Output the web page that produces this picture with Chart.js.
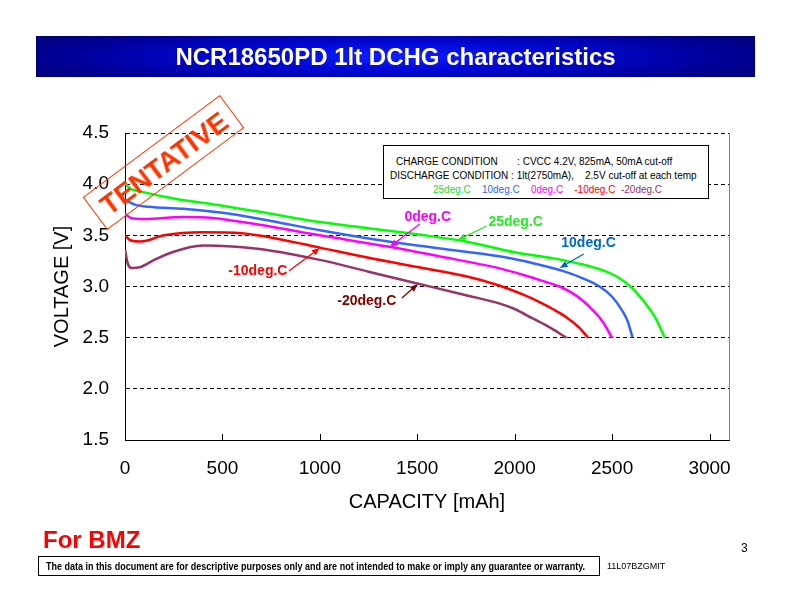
<!DOCTYPE html>
<html>
<head>
<meta charset="utf-8">
<script src="https://cdn.jsdelivr.net/npm/chart.js@4.4.1/dist/chart.umd.min.js"></script>
<style>
html,body{margin:0;padding:0;background:#fff;}
#wrap{position:relative;width:792px;height:612px;overflow:hidden;font-family:"Liberation Sans",Arial,sans-serif;background:#fff;}
#c{position:absolute;left:0;top:0;}
#titlebar{position:absolute;left:36px;top:36px;width:719px;height:41px;
  background:radial-gradient(ellipse 60% 90% at 50% 50%,#1020ff 0%,#0008d8 35%,#00009a 75%,#000078 100%);
  color:#fff;font:bold 24px "Liberation Sans",Arial,sans-serif;text-align:center;line-height:41px;}
#cond{position:absolute;left:383px;top:145px;width:324px;height:52px;border:1px solid #000;background:#fff;
  font:10px "Liberation Sans",Arial,sans-serif;color:#000;}
#cond div{position:absolute;white-space:pre;line-height:12px;}
#stamp{position:absolute;left:78px;top:142px;width:171px;height:41px;border:1px solid #ff3300;
  transform:rotate(-36.7deg);color:#ff3300;font:bold 28px "Liberation Sans",Arial,sans-serif;
  text-align:center;line-height:41px;box-sizing:border-box;}
#forbmz{position:absolute;left:43px;top:526px;color:#ff0000;font:bold 24px "Liberation Sans",Arial,sans-serif;line-height:28px;}
#disc{position:absolute;left:38px;top:556px;width:562px;height:20px;border:1px solid #000;box-sizing:border-box;}
#disctext{position:absolute;left:7px;top:3px;white-space:nowrap;font:bold 11px "Liberation Sans Narrow","Liberation Sans",Arial,sans-serif;transform-origin:0 0;line-height:13px;}
#code{position:absolute;left:607px;top:560px;font:9px "Liberation Sans",Arial,sans-serif;line-height:12px;}
#page{position:absolute;left:741px;top:541px;font:12px "Liberation Sans",Arial,sans-serif;line-height:14px;}
</style>
</head>
<body>
<div id="wrap">
  <canvas id="c" width="792" height="612"></canvas>
  <div id="titlebar">NCR18650PD 1lt DCHG characteristics</div>
  <div id="cond">
    <div style="left:12px;top:10px;">CHARGE CONDITION       : CVCC 4.2V, 825mA, 50mA cut-off</div>
    <div style="left:6px;top:24px;">DISCHARGE CONDITION : 1lt(2750mA),    2.5V cut-off at each temp</div>
    <div style="left:49px;top:38px;"><span style="color:#22dd22">25deg.C</span>    <span style="color:#3366ff">10deg.C</span>    <span style="color:#ff00ff">0deg.C</span>    <span style="color:#ff0000">-10deg.C</span>  <span style="color:#993366">-20deg.C</span></div>
  </div>
  <div id="stamp">TENTATIVE</div>
  <div id="forbmz">For BMZ</div>
  <div id="disc"><div id="disctext">The data in this document are for descriptive purposes only and are not intended to make or imply any guarantee or warranty.</div></div>
  <div id="code">11L07BZGMIT</div>
  <div id="page">3</div>
</div>
<script>
// ---- Data (capacity in mAh, voltage in V) ----
const cap25 = [0,25,100,250,500,750,1000,1250,1500,1750,2000,2200,2350,2450,2530,2600,2660,2720,2770];
const volt25 = [4.01,3.96,3.92,3.86,3.79,3.71,3.63,3.57,3.51,3.44,3.335,3.275,3.215,3.16,3.09,2.99,2.86,2.70,2.50];

const cap10 = [0,50,120,300,500,750,1000,1250,1500,1750,1950,2100,2250,2350,2436,2500,2550,2580,2605];
const volt10 = [3.85,3.80,3.78,3.76,3.72,3.64,3.55,3.47,3.40,3.34,3.285,3.225,3.15,3.08,3.00,2.90,2.77,2.66,2.50];

const cap0 = [0,30,100,300,450,700,1000,1350,1600,1923,2050,2150,2230,2300,2350,2400,2450,2500];
const volt0 = [3.71,3.67,3.66,3.68,3.67,3.60,3.50,3.39,3.30,3.177,3.11,3.05,3.00,2.93,2.86,2.77,2.66,2.50];

const capM10 = [0,30,80,200,400,600,800,1000,1250,1500,1750,1920,2050,2130,2200,2265,2330,2376];
const voltM10 = [3.50,3.45,3.44,3.50,3.53,3.52,3.46,3.38,3.28,3.19,3.10,3.01,2.915,2.845,2.775,2.70,2.60,2.50];

const capM20 = [0,15,35,80,150,250,400,550,750,1000,1250,1500,1750,1920,2000,2090,2180,2265];
const voltM20 = [3.36,3.22,3.18,3.19,3.26,3.34,3.40,3.39,3.35,3.26,3.145,3.03,2.915,2.835,2.78,2.69,2.60,2.50];

const seriesNames = ['25deg.C','10deg.C','0deg.C','-10deg.C','-20deg.C'];
const seriesColors = ['#00ff00','#3366ff','#ff00ff','#ff0000','#993366'];
const xTicks = [0,500,1000,1500,2000,2500,3000];
const yTicks = [1.5,2.0,2.5,3.0,3.5,4.0,4.5];

// curve call-outs: [text, textColor, labelCap, labelV, arrowFromCap, arrowFromV, tipCap, tipV]
const callouts = [
  ['0deg.C',  '#ff00ff', 1554, 3.679, 1513, 3.611, 1359, 3.386],
  ['25deg.C', '#22ee22', 2005, 3.630, 1856, 3.591, 1708, 3.454],
  ['10deg.C', '#0066cc', 2379, 3.425, 2354, 3.318, 2231, 3.181],
  ['-10deg.C','#ff0000',  682, 3.151,  841, 3.151, 1000, 3.376],
  ['-20deg.C','#800000', 1241, 2.858, 1421, 2.888, 1503, 3.024]
];

function pts(xs, ys){ return xs.map((x,i)=>({x:x, y:ys[i]})); }
const capArrays = [cap25,cap10,cap0,capM10,capM20];
const voltArrays = [volt25,volt10,volt0,voltM10,voltM20];

const datasets = seriesNames.map((n,i)=>({
  label:n, data:pts(capArrays[i], voltArrays[i]),
  borderColor:seriesColors[i], backgroundColor:seriesColors[i],
  borderWidth:2.5, pointRadius:0, fill:false,
  cubicInterpolationMode:'monotone'
})).reverse();

const extras = {
  id:'extras',
  afterDraw(chart){
    const ctx = chart.ctx, xs = chart.scales.x, ys = chart.scales.y, a = chart.chartArea;
    ctx.save();
    // right border
    ctx.strokeStyle = '#808080'; ctx.lineWidth = 1;
    ctx.beginPath(); ctx.moveTo(Math.round(a.right)+0.5, a.top); ctx.lineTo(Math.round(a.right)+0.5, a.bottom); ctx.stroke();
    // inner x ticks
    ctx.strokeStyle = '#000';
    xTicks.forEach(v=>{ if(v===0) return; const px = Math.round(xs.getPixelForValue(v))+0.5;
      ctx.beginPath(); ctx.moveTo(px, a.bottom); ctx.lineTo(px, a.bottom-6); ctx.stroke(); });
    // call-outs
    ctx.font = 'bold 14px "Liberation Sans", Arial, sans-serif';
    ctx.textAlign = 'center'; ctx.textBaseline = 'middle';
    callouts.forEach(c=>{
      const [t,col,lc,lv,fc,fv,tc,tv] = c;
      ctx.fillStyle = col; ctx.strokeStyle = col; ctx.lineWidth = 1.3;
      ctx.fillText(t, xs.getPixelForValue(lc), ys.getPixelForValue(lv));
      const x1 = xs.getPixelForValue(fc), y1 = ys.getPixelForValue(fv);
      const x2 = xs.getPixelForValue(tc), y2 = ys.getPixelForValue(tv);
      const ang = Math.atan2(y2-y1, x2-x1);
      const hl = 8, hw = 3.2;
      const bx = x2 - hl*Math.cos(ang), by = y2 - hl*Math.sin(ang);
      ctx.beginPath(); ctx.moveTo(x1,y1); ctx.lineTo(bx,by); ctx.stroke();
      ctx.beginPath();
      ctx.moveTo(x2,y2);
      ctx.lineTo(bx + hw*Math.sin(ang), by - hw*Math.cos(ang));
      ctx.lineTo(bx - hw*Math.sin(ang), by + hw*Math.cos(ang));
      ctx.closePath(); ctx.fill();
    });
    ctx.restore();
  }
};

new Chart(document.getElementById('c'), {
  type:'line',
  data:{datasets:datasets},
  plugins:[extras],
  options:{
    responsive:false, animation:false, devicePixelRatio:1,
    layout:{padding:{left:0, top:133, right:63, bottom:92}},
    plugins:{legend:{display:false}, tooltip:{enabled:false}},
    scales:{
      x:{type:'linear', min:0, max:3100,
        afterFit(s){ s.height = 80; },
        afterBuildTicks(s){ s.ticks = xTicks.map(v=>({value:v})); },
        ticks:{padding:17, color:'#000', font:{size:19, family:'"Liberation Sans", Arial, sans-serif'}, maxRotation:0,
          callback:(v)=>String(v)},
        grid:{drawOnChartArea:false, drawTicks:false},
        border:{display:true, color:'#000', width:1},
        title:{display:true, text:'CAPACITY [mAh]', color:'#000', padding:{top:0,bottom:6},
          font:{size:20, family:'"Liberation Sans", Arial, sans-serif'}}
      },
      y:{type:'linear', min:1.5, max:4.5,
        afterFit(s){ s.width = 125; },
        afterBuildTicks(s){ s.ticks = yTicks.map(v=>({value:v})); },
        ticks:{padding:16, color:'#000', font:{size:19, family:'"Liberation Sans", Arial, sans-serif'},
          callback:(v)=>Number(v).toFixed(1)},
        grid:{color:'#000', lineWidth:1, drawTicks:false},
        border:{display:true, color:'#000', width:1, dash:[4,3]},
        title:{display:true, text:'VOLTAGE [V]', color:'#000', padding:{top:50,bottom:0},
          font:{size:20, family:'"Liberation Sans", Arial, sans-serif'}}
      }
    }
  }
});

// fit disclaimer text to its box width
(function(){
  const el = document.getElementById('disctext');
  const w = el.getBoundingClientRect().width;
  el.style.transform = 'scaleX(' + (539 / w) + ')';
})();
</script>
</body>
</html>
